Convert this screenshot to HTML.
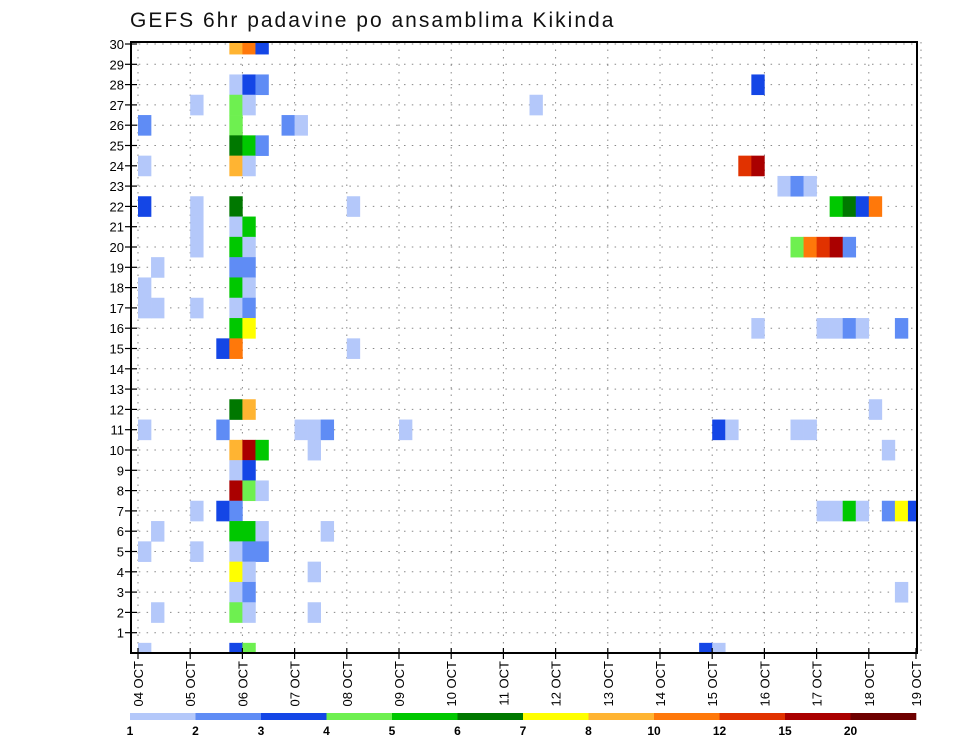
<!DOCTYPE html>
<html><head><meta charset="utf-8"><style>
body{margin:0;background:#fff;}
svg{display:block;font-family:"Liberation Sans",sans-serif;}
</style></head><body>
<svg id="chart" width="960" height="742" viewBox="0 0 960 742">
<text x="130" y="27" font-size="21" letter-spacing="2" font-weight="normal" fill="#111">GEFS 6hr padavine po ansamblima Kikinda</text>
<g id="grid"></g>
<g id="cells"></g>
<g id="axes"></g>
<g id="colorbar"></g>
</svg>
<script>
const dayLabels=["04 OCT","05 OCT","06 OCT","07 OCT","08 OCT","09 OCT","10 OCT","11 OCT","12 OCT","13 OCT","14 OCT","15 OCT","16 OCT","17 OCT","18 OCT","19 OCT"];
const rowLabels=[1,2,3,4,5,6,7,8,9,10,11,12,13,14,15,16,17,18,19,20,21,22,23,24,25,26,27,28,29,30];
const levelColors=["#b4c8fa","#5f8cf5","#1446e6","#6ef050","#00c800","#007800","#ffff00","#ffb432","#ff780a","#e13200","#aa0000","#6e0000"];
const levelTicks=["1","2","3","4","5","6","7","8","10","12","15","20"];
const cellRow=[30,30,30,28,28,28,28,27,27,27,27,26,26,26,26,25,25,25,24,24,24,24,24,23,23,23,
22,22,22,22,22,22,22,22,21,21,21,20,20,20,20,20,20,20,20,19,19,19,18,18,18,17,17,17,17,17,
16,16,16,16,16,16,16,16,15,15,15,12,12,12,11,11,11,11,11,11,11,11,11,11,10,10,10,10,10,9,9,8,8,8,
7,7,7,7,7,7,7,7,7,7,6,6,6,6,6,5,5,5,5,5,4,4,4,3,3,3,2,2,2,2,0,0,0,0,0];
const cellCol=[7,8,9,7,8,9,47,4,7,8,30,0,7,11,12,7,8,9,0,7,8,46,47,49,50,51,
0,4,7,16,53,54,55,56,4,7,8,4,7,8,50,51,52,53,54,1,7,8,0,7,8,0,1,4,7,8,
7,8,47,52,53,54,55,58,6,7,16,7,8,56,0,6,12,13,14,20,44,45,50,51,7,8,9,13,57,7,8,7,8,9,
4,6,7,52,53,54,55,57,58,59,1,7,8,9,14,0,4,7,8,9,7,8,13,7,8,58,1,7,8,13,0,7,8,43,44];
const cellLevel=[8,9,3,1,3,2,3,1,4,1,1,2,4,2,1,6,5,2,1,8,1,10,11,1,2,1,
3,1,6,1,5,6,3,9,1,1,5,1,5,1,4,9,10,11,2,1,2,2,1,5,1,1,1,1,1,2,
5,7,1,1,1,2,1,2,3,9,1,6,8,1,1,2,1,1,2,1,3,1,1,1,8,11,5,1,1,1,3,11,4,1,
1,3,2,1,1,5,1,2,7,3,1,5,5,1,1,1,1,1,2,2,7,1,1,1,2,1,1,4,1,1,1,3,4,3,1];

const L=131,R=917,T=42,B=653;
const X0=138,dayW=52.2,cellW=dayW/4,rowH=(B-44)/30;
const xDay=d=>X0+d*dayW;
const xCol=c=>X0+c*cellW;
const yRow=r=>B-r*rowH;
const NS="http://www.w3.org/2000/svg";
function mk(tag,attrs,parent){const e=document.createElementNS(NS,tag);for(const k in attrs)e.setAttribute(k,attrs[k]);parent.appendChild(e);return e;}
const grid=document.getElementById('grid'),cells=document.getElementById('cells'),axes=document.getElementById('axes'),cb=document.getElementById('colorbar');

const defs=mk('defs',{},document.getElementById('chart'));
const cp=mk('clipPath',{id:'pc'},defs);mk('rect',{x:L,y:T,width:R-L,height:B-T},cp);
cells.setAttribute('clip-path','url(#pc)');

dayLabels.forEach((s,d)=>{
  const g=mk('line',{x1:xDay(d),x2:xDay(d),y1:T,y2:B,stroke:'#888','stroke-width':1,'stroke-dasharray':'1.5,6'},grid);
  
  
});
rowLabels.forEach(r=>{
  const g=mk('line',{x1:L,x2:R,y1:yRow(r),y2:yRow(r),stroke:'#888','stroke-width':1,'stroke-dasharray':'1.5,6.3'},grid);
  
  
});

for(let i=0;i<cellRow.length;i++){
  const c=mk('rect',{x:xCol(cellCol[i]),y:yRow(cellRow[i])-rowH/2,width:cellW+0.3,height:rowH+0.3,fill:levelColors[cellLevel[i]-1]},cells);
  
  
}

const box=mk('rect',{x:L,y:T,width:R-L,height:B-T,fill:'none',stroke:'#000','stroke-width':2},axes);


rowLabels.forEach(r=>{
  const y=yRow(r);
  const t=mk('line',{x1:L-6,x2:L+6,y1:y,y2:y,stroke:'#000','stroke-width':1.2},axes);
  
  
  const tx=mk('text',{x:L-7,y:y+5,'font-size':13,'text-anchor':'end'},axes);
  tx.textContent=r;
  
  
});
dayLabels.forEach((s,d)=>{
  const x=Math.min(xDay(d),R-1);
  const t=mk('line',{x1:x,x2:x,y1:B-5,y2:B+6,stroke:'#000','stroke-width':1.2},axes);
  
  
  const tx=mk('text',{x:0,y:0,'font-size':13,'text-anchor':'end',transform:`translate(${x+5},${B+8}) rotate(-90)`},axes);
  tx.textContent=s;
  
  
});

const cbL=130,cbR=916,segW=(cbR-cbL)/levelColors.length;
levelColors.forEach((col,i)=>{
  const s=mk('rect',{x:cbL+i*segW,y:713,width:segW+0.3,height:7,fill:col},cb);
  
  
});
levelTicks.forEach((lab,i)=>{
  const tx=mk('text',{x:cbL+i*segW,y:735,'font-size':12,'font-weight':'bold','text-anchor':'middle'},cb);
  tx.textContent=lab;
  
  
});
</script>
</body></html>
